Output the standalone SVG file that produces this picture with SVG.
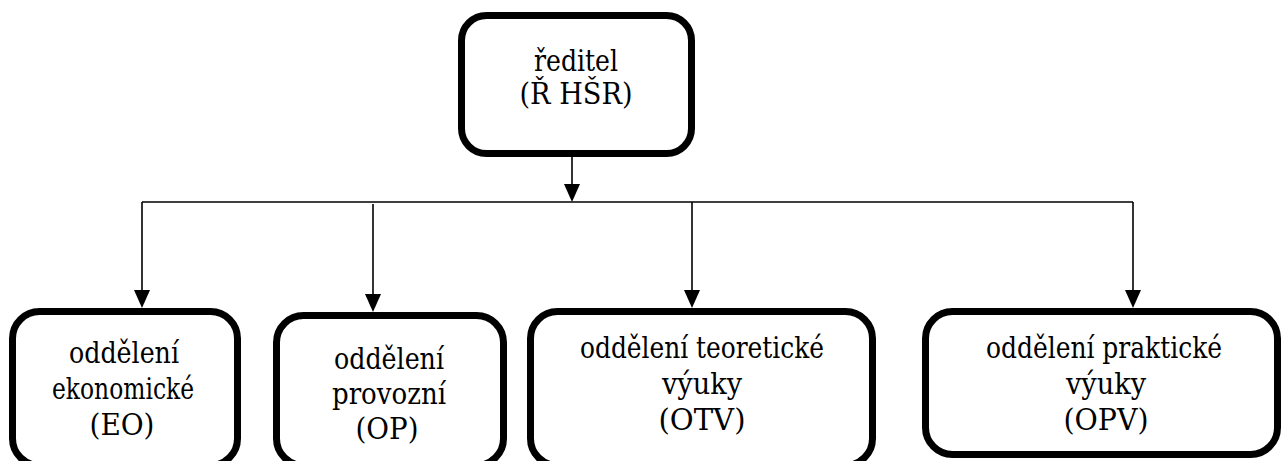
<svg xmlns="http://www.w3.org/2000/svg" width="1282" height="461" viewBox="0 0 1282 461">
  <style>
    .box { fill: #ffffff; stroke: #000000; stroke-width: 7; }
    .lbl { font-family: 'DejaVu Serif Condensed', 'DejaVu Serif', 'Liberation Serif', serif; font-size: 30px; fill: #000000; text-anchor: middle; }
    .conn { fill: none; stroke: #000000; stroke-width: 1.6; }
    .head { fill: #000000; stroke: none; }
  </style>
  <rect width="1282" height="461" fill="#ffffff"/>

  <g id="connectors">
    <path class="conn" d="M572,157 L572,186"/>
    <path class="conn" d="M142,202 H1133"/>
    <path class="conn" d="M142,202 V292"/>
    <path class="conn" d="M373,204 V296"/>
    <path class="conn" d="M692,202 V292"/>
    <path class="conn" d="M1133,202 V292"/>
    <path class="head" d="M564,184 L580,184 L572,202 Z"/>
    <path class="head" d="M134,290 L150,290 L142,308 Z"/>
    <path class="head" d="M365,294 L381,294 L373,312 Z"/>
    <path class="head" d="M684,290 L700,290 L692,308 Z"/>
    <path class="head" d="M1125,290 L1141,290 L1133,308 Z"/>
  </g>

  <g id="node-reditel">
    <rect class="box" x="461.5" y="15.5" width="230" height="138" rx="25" ry="25"/>
    <text class="lbl" x="576" y="71" textLength="84" lengthAdjust="spacingAndGlyphs">ředitel</text>
    <text class="lbl" x="576" y="104" textLength="113" lengthAdjust="spacingAndGlyphs">(Ř HŠR)</text>
  </g>

  <g id="node-eo">
    <rect class="box" x="12.5" y="311.5" width="225" height="154" rx="27" ry="27"/>
    <text class="lbl" x="124" y="363" textLength="110" lengthAdjust="spacingAndGlyphs">oddělení</text>
    <text class="lbl" x="123" y="399" textLength="142" lengthAdjust="spacingAndGlyphs">ekonomické</text>
    <text class="lbl" x="122" y="435" textLength="65" lengthAdjust="spacingAndGlyphs">(EO)</text>
  </g>

  <g id="node-op">
    <rect class="box" x="276.5" y="315.5" width="227" height="150" rx="27" ry="27"/>
    <text class="lbl" x="389" y="369" textLength="110" lengthAdjust="spacingAndGlyphs">oddělení</text>
    <text class="lbl" x="389" y="404" textLength="114" lengthAdjust="spacingAndGlyphs">provozní</text>
    <text class="lbl" x="387" y="439" textLength="63" lengthAdjust="spacingAndGlyphs">(OP)</text>
  </g>

  <g id="node-otv">
    <rect class="box" x="530.5" y="311.5" width="342" height="154" rx="27" ry="27"/>
    <text class="lbl" x="702" y="358" textLength="244" lengthAdjust="spacingAndGlyphs">oddělení teoretické</text>
    <text class="lbl" x="702" y="394" textLength="80" lengthAdjust="spacingAndGlyphs">výuky</text>
    <text class="lbl" x="702" y="430" textLength="87" lengthAdjust="spacingAndGlyphs">(OTV)</text>
  </g>

  <g id="node-opv">
    <rect class="box" x="925.5" y="311.5" width="352" height="143" rx="27" ry="27"/>
    <text class="lbl" x="1104" y="358" textLength="236" lengthAdjust="spacingAndGlyphs">oddělení praktické</text>
    <text class="lbl" x="1106" y="394" textLength="80" lengthAdjust="spacingAndGlyphs">výuky</text>
    <text class="lbl" x="1106" y="430" textLength="85" lengthAdjust="spacingAndGlyphs">(OPV)</text>
  </g>
</svg>
